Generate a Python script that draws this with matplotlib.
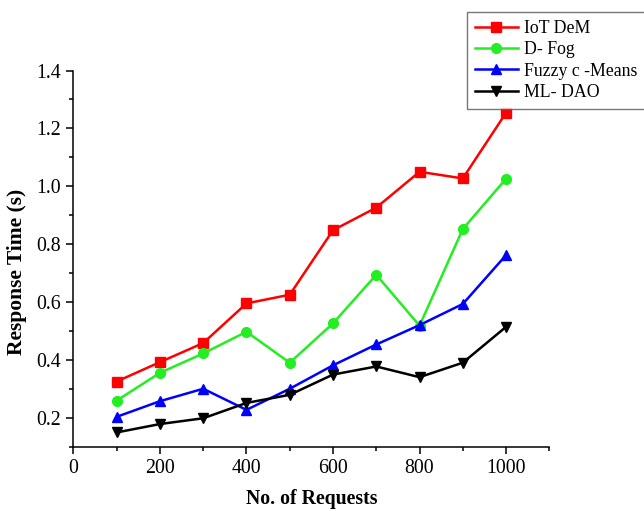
import matplotlib
matplotlib.use('Agg')
import matplotlib.pyplot as plt
from matplotlib.ticker import MultipleLocator, FormatStrFormatter

plt.rcParams['font.family'] = ['Liberation Serif', 'DejaVu Serif']

requests = [100, 200, 300, 400, 500, 600, 700, 800, 900, 1000]
iot_dem = [0.325, 0.392, 0.458, 0.595, 0.625, 0.848, 0.926, 1.050, 1.027, 1.254]
d_fog = [0.259, 0.355, 0.422, 0.497, 0.390, 0.526, 0.694, 0.518, 0.852, 1.026]
fuzzy_cmeans = [0.203, 0.257, 0.300, 0.227, 0.300, 0.381, 0.453, 0.520, 0.593, 0.762]
ml_dao = [0.149, 0.178, 0.198, 0.251, 0.279, 0.349, 0.377, 0.340, 0.390, 0.514]

series = [
    ('IoT DeM', iot_dem, '#ff0000', 's'),
    ('D- Fog', d_fog, '#22ee22', 'o'),
    ('Fuzzy c -Means', fuzzy_cmeans, '#0000ff', '^'),
    ('ML- DAO', ml_dao, '#000000', 'v'),
]

fig = plt.figure(figsize=(6.44, 5.11), dpi=100)
ax = fig.add_axes([0.114, 0.126, 0.739, 0.736])

for label, values, color, marker in series:
    ax.plot(requests, values, color=color, marker=marker, markersize=7,
            linewidth=1.8, label=label)

ax.set_xlim(0, 1100)
ax.set_ylim(0.1, 1.4)
ax.xaxis.set_major_locator(MultipleLocator(200))
ax.xaxis.set_minor_locator(MultipleLocator(100))
ax.yaxis.set_minor_locator(MultipleLocator(0.1))
ax.set_yticks([0.2, 0.4, 0.6, 0.8, 1.0, 1.2, 1.4])
ax.yaxis.set_major_formatter(FormatStrFormatter('%.1f'))

ax.spines['top'].set_visible(False)
ax.spines['right'].set_visible(False)
for side in ('left', 'bottom'):
    ax.spines[side].set_linewidth(1.1)

ax.tick_params(which='major', direction='out', length=5, width=1.1,
               labelsize=14.3, pad=4)
ax.tick_params(which='minor', direction='out', length=3, width=1.1)

ax.set_xlabel('No. of Requests', fontsize=14.2, fontweight='bold', labelpad=8)
ax.set_ylabel('Response Time (s)', fontsize=15.5, fontweight='bold')
ax.yaxis.set_label_coords(-0.098, 0.465)

leg = fig.legend(loc='upper left', bbox_to_anchor=(0.725, 0.977),
                 fontsize=12.8, frameon=True, fancybox=False,
                 edgecolor='#555555', handlelength=2.4, handletextpad=0.35,
                 labelspacing=0.25, borderpad=0.45, borderaxespad=0)
leg.get_frame().set_linewidth(1.0)

fig.savefig('out.png', dpi=100)
